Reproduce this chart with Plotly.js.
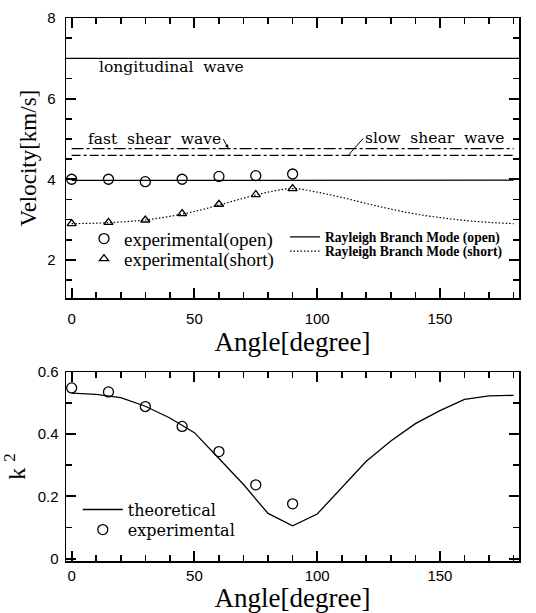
<!DOCTYPE html>
<html>
<head>
<meta charset="utf-8">
<script src="https://cdn.plot.ly/plotly-3.0.1.min.js"></script>
<style>html,body{margin:0;padding:0;background:#fff;}#chart{width:536px;height:613px;}</style>
</head>
<body>
<div id="chart"></div>
<script>
// ---- data ----
var expAngles = [0, 15, 30, 45, 60, 75, 90];
var expOpenVel = [4.0, 4.0, 3.94, 4.0, 4.07, 4.09, 4.13];
var expShortVel = [2.9, 2.93, 2.99, 3.15, 3.38, 3.62, 3.77];

var theoryAngles = [0, 10, 20, 30, 40, 50, 60, 70, 80, 90, 100, 110, 120, 130, 140, 150, 160, 170, 180];
var rayleighOpenVel = [3.97, 3.97, 3.97, 3.97, 3.97, 3.97, 3.97, 3.97, 3.97, 3.97, 3.97, 3.97, 3.97, 3.97, 3.97, 3.97, 3.97, 3.97, 3.98];
var rayleighShortVel = [2.9, 2.91, 2.94, 2.99, 3.08, 3.2, 3.36, 3.53, 3.68, 3.77, 3.68, 3.55, 3.40, 3.26, 3.14, 3.05, 2.98, 2.93, 2.9];

var bulkAngles = [-2.3, 182.2];
var longitudinalVel = [7.0, 7.0];
var shearAngles = [0, 180];
var fastShearVel = [4.76, 4.76];
var slowShearVel = [4.59, 4.59];

var k2TheoryAngles = [0, 10, 20, 30, 40, 50, 60, 70, 80, 90, 100, 110, 120, 130, 140, 150, 160, 170, 180];
var k2Theory = [0.532, 0.528, 0.518, 0.49, 0.452, 0.405, 0.322, 0.238, 0.145, 0.105, 0.143, 0.229, 0.313, 0.378, 0.434, 0.476, 0.512, 0.523, 0.525];
var k2Exp = [0.549, 0.536, 0.489, 0.425, 0.344, 0.237, 0.176];

var serif = 'Liberation Serif, Times New Roman, serif';
var wideSerif = 'DejaVu Serif, serif';
var sans = 'Liberation Sans, Arial, sans-serif';

var openCircle = {symbol: 'circle-open', size: 10, color: '#000', line: {width: 1.3, color: '#000'}};

var traces = [
  {x: bulkAngles, y: longitudinalVel, mode: 'lines', line: {color: '#000', width: 1.3}, showlegend: false, xaxis: 'x', yaxis: 'y'},
  {x: shearAngles, y: fastShearVel, mode: 'lines', line: {color: '#000', width: 1.2, dash: '12px,3px,3px,3px'}, showlegend: false, xaxis: 'x', yaxis: 'y'},
  {x: shearAngles, y: slowShearVel, mode: 'lines', line: {color: '#000', width: 1.2, dash: '9px,3px,3px,3px'}, showlegend: false, xaxis: 'x', yaxis: 'y'},
  {x: expAngles, y: expOpenVel, mode: 'markers', name: 'experimental(open)', legend: 'legend',
   marker: openCircle, xaxis: 'x', yaxis: 'y'},
  {x: expAngles, y: expShortVel, mode: 'markers', name: 'experimental(short)', legend: 'legend2',
   marker: {symbol: 'triangle-up-open', size: 8, color: '#000', line: {width: 1.3, color: '#000'}}, xaxis: 'x', yaxis: 'y'},
  {x: theoryAngles, y: rayleighOpenVel, mode: 'lines', name: 'Rayleigh Branch Mode (open)', legend: 'legend3',
   line: {color: '#000', width: 1.3}, xaxis: 'x', yaxis: 'y'},
  {x: theoryAngles, y: rayleighShortVel, mode: 'lines', name: 'Rayleigh Branch Mode (short)', legend: 'legend4',
   line: {color: '#000', width: 1.2, dash: '1.5px,2px', shape: 'spline'}, xaxis: 'x', yaxis: 'y'},
  {x: k2TheoryAngles, y: k2Theory, mode: 'lines', name: 'theoretical', legend: 'legend5',
   line: {color: '#000', width: 1.3}, xaxis: 'x2', yaxis: 'y2'},
  {x: expAngles, y: k2Exp, mode: 'markers', name: 'experimental', legend: 'legend6',
   marker: openCircle, xaxis: 'x2', yaxis: 'y2'}
];

function axisCommon(extra) {
  var a = {
    showline: true, linecolor: '#000', linewidth: 1.5, mirror: 'allticks',
    ticks: 'inside', ticklen: 10, tickwidth: 2, tickcolor: '#000',
    showgrid: false, zeroline: false,
    tickfont: {family: sans, size: 15, color: '#000'}
  };
  for (var k in extra) a[k] = extra[k];
  return a;
}
function minorTicks(d) {
  return {dtick: d, ticklen: 6, ticks: 'inside', tickwidth: 1.6, tickcolor: '#000'};
}
function leg(x, y, font, w) {
  return {x: x, y: y, xanchor: 'left', yanchor: 'top', bgcolor: 'rgba(0,0,0,0)', borderwidth: 0,
    font: font, tracegroupgap: 0, itemwidth: w || 30};
}

var layout = {
  width: 536, height: 613,
  margin: {l: 66, r: 17, t: 18, b: 52},
  paper_bgcolor: '#fff', plot_bgcolor: '#fff',
  font: {family: serif, color: '#000'},
  xaxis: axisCommon({domain: [0, 1], anchor: 'y', range: [-2.3, 182.2], tick0: 0, dtick: 50,
    minor: minorTicks(10), ticklabelstandoff: 6,
    title: {text: 'Angle[degree]', font: {family: serif, size: 27, color: '#000'}, standoff: 0}}),
  yaxis: axisCommon({domain: [0.484, 1], anchor: 'x', range: [1.05, 8], tick0: 0, dtick: 2,
    minor: minorTicks(0.5), ticklabelstandoff: 6,
    title: {text: 'Velocity[km/s]', font: {family: serif, size: 23, color: '#000'}, standoff: 4}}),
  xaxis2: axisCommon({domain: [0, 1], anchor: 'y2', range: [-2.3, 182.2], tick0: 0, dtick: 50,
    minor: minorTicks(10), ticklabelstandoff: 0,
    title: {text: 'Angle[degree]', font: {family: serif, size: 27, color: '#000'}, standoff: 0}}),
  yaxis2: axisCommon({domain: [0, 0.348], anchor: 'x2', range: [-0.008, 0.6], tick0: 0, dtick: 0.2,
    minor: minorTicks(0.1), ticklabelstandoff: 3,
    title: {text: 'k <sup>2</sup>', font: {family: serif, size: 24, color: '#000'}, standoff: 8}}),
  legend:  leg(0.0397, 0.6285, {family: serif, size: 19, color: '#000'}),
  legend2: leg(0.0397, 0.5915, {family: serif, size: 19, color: '#000'}),
  legend3: leg(0.4834, 0.625, {family: serif, size: 13.6, color: '#000', weight: 'bold'}),
  legend4: leg(0.4834, 0.599, {family: serif, size: 13.6, color: '#000', weight: 'bold'}),
  legend5: leg(0.026, 0.126, {family: wideSerif, size: 16, color: '#000'}, 40),
  legend6: leg(0.026, 0.089, {family: wideSerif, size: 16, color: '#000'}, 40),
  annotations: [
    {xref: 'x', yref: 'y', x: 10.5, y: 7.05, xanchor: 'left', yanchor: 'top', showarrow: false,
     text: 'longitudinal  wave', font: {family: wideSerif, size: 15.5, color: '#000'}},
    {xref: 'x', yref: 'y', x: 63.8, y: 4.77, ax: -5, ay: -9, xanchor: 'right', yanchor: 'middle',
     text: 'fast  shear  wave', font: {family: wideSerif, size: 15.5, color: '#000'},
     showarrow: true, arrowhead: 2, arrowsize: 0.7, arrowwidth: 1, arrowcolor: '#000', standoff: 0, startstandoff: 0},
    {xref: 'x', yref: 'y', x: 112.6, y: 4.59, ax: 15, ay: -17, xanchor: 'left', yanchor: 'middle',
     text: 'slow  shear  wave', font: {family: wideSerif, size: 15.5, color: '#000'},
     showarrow: true, arrowhead: 0, arrowwidth: 1, arrowcolor: '#000', standoff: 0}
  ]
};

Plotly.newPlot('chart', traces, layout, {displayModeBar: false, staticPlot: true});
</script>
</body>
</html>
